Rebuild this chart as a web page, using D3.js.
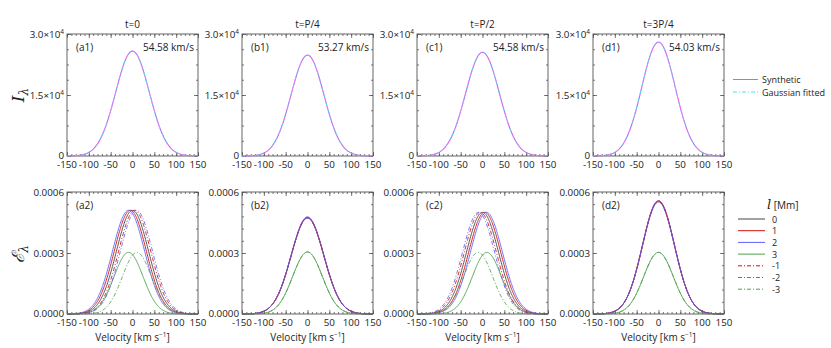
<!doctype html>
<html lang="en">
<head>
<meta charset="utf-8">
<title>Line profiles</title>
<style>
  body { margin: 0; background: #fff; font-family: 'Open Sans', sans-serif; }
  svg text { fill: #222; }
</style>
</head>
<body>
<svg width="831" height="348"></svg>
<script src="https://d3js.org/d3.v7.min.js"></script>
<script>
// ---- data ----
var times = ["t=0", "t=P/4", "t=P/2", "t=3P/4"];
var topTags = ["(a1)", "(b1)", "(c1)", "(d1)"];
var botTags = ["(a2)", "(b2)", "(c2)", "(d2)"];
var fitWidths = [54.58, 53.27, 54.58, 54.03];          // km/s, printed in panels
var intensityPeaks = [2.58e4, 2.48e4, 2.55e4, 2.80e4]; // synthetic = fitted
var velocityTicks = [-150, -100, -50, 0, 50, 100, 150];
var intensityTicks = [0, 1.5e4, 3.0e4];
var emissTicks = [0, 0.0003, 0.0006];

var layers = ["0", "1", "2", "3", "-1", "-2", "-3"];
var layerColors = ["#444444", "#d01010", "#6060ff", "#4aa04a", "#d01010", "#6060ff", "#4aa04a"];
var layerDashed = [false, false, false, false, true, true, true];

// emissivity profiles per panel: peak, centroid (km/s), width (km/s)
var emissPeaks = [
  [0.00051, 0.00051, 0.00051, 0.000303, 0.00051, 0.00051, 0.000303],
  [0.000474, 0.000472, 0.000478, 0.000305, 0.000474, 0.000472, 0.000305],
  [0.000500, 0.000500, 0.000500, 0.000303, 0.000500, 0.000500, 0.000303],
  [0.000555, 0.000557, 0.000550, 0.000303, 0.000555, 0.000557, 0.000303]
];
var emissShifts = [
  [0, -5, -9, -9, 5, 9, 10],
  [0, 0, 0, 0, 0, 0, 0],
  [0, 5, 9, 10, -5, -9, -10],
  [0, 0, 0, 0, 0, 0, 0]
];
var emissWidths = [
  [52, 52, 52, 47, 52, 52, 47],
  [53, 53, 53, 48, 53, 53, 48],
  [52, 52, 52, 47, 52, 52, 47],
  [52, 52, 52, 48, 52, 52, 48]
];

// ---- layout ----
var svg = d3.select("svg");
var panelLeft = [67, 242, 417, 593], panelW = 131, panelH = 122;
var rowTop = [34, 192];
var vel = d3.range(-150, 150.5, 1);
var dashDot = "4,2,1,2";

function profile(peak, shift, w) {
  return vel.map(function(v) { return [v, peak * Math.exp(-Math.pow((v - shift) / w, 2))]; });
}

function frame(g, x, y, yMinorStep) {
  var minorX = d3.range(-150, 151, 10);
  var minorY = d3.range(y.domain()[0], y.domain()[1] + yMinorStep / 2, yMinorStep);
  var ax = [
    [d3.axisBottom(x), "translate(0," + panelH + ")"],
    [d3.axisTop(x), "translate(0,0)"]
  ];
  ax.forEach(function(a) {
    g.append("g").attr("transform", a[1]).call(a[0].tickValues(minorX).tickSize(-2).tickFormat(""));
    g.append("g").attr("transform", a[1]).call(a[0].tickValues(velocityTicks).tickSize(-4).tickFormat(""));
  });
  var ay = [
    [d3.axisLeft(y), "translate(0,0)"],
    [d3.axisRight(y), "translate(" + panelW + ",0)"]
  ];
  ay.forEach(function(a) {
    g.append("g").attr("transform", a[1]).call(a[0].tickValues(minorY).tickSize(-2).tickFormat(""));
    g.append("g").attr("transform", a[1]).call(a[0].tickValues(y.ticksList).tickSize(-4).tickFormat(""));
  });
  g.selectAll(".domain").remove();
  g.selectAll(".tick line").attr("stroke", "#555").attr("stroke-width", 0.8);
  g.append("rect").attr("width", panelW).attr("height", panelH)
    .attr("fill", "none").attr("stroke", "#555").attr("stroke-width", 0.9);

  g.append("g").selectAll("text").data(velocityTicks).enter().append("text")
    .attr("x", function(d) { return x(d); })
    .attr("y", panelH + 11.5)
    .attr("text-anchor", "middle")
    .attr("font-size", 9.8)
    .text(function(d) { return d; });
}

var line = function(x, y) {
  return d3.line().x(function(d) { return x(d[0]); }).y(function(d) { return y(d[1]); });
};

for (var p = 0; p < 4; p++) {
  var x = d3.scaleLinear().domain([-150, 150]).range([0, panelW]);

  // ---- top row: intensity ----
  var yI = d3.scaleLinear().domain([0, 3.0e4]).range([panelH, 0]);
  yI.ticksList = intensityTicks;
  var g1 = svg.append("g").attr("transform", "translate(" + panelLeft[p] + "," + rowTop[0] + ")");
  frame(g1, x, yI, 3750);

  var yl = g1.append("g").selectAll("text").data(intensityTicks).enter().append("text")
    .attr("x", -3).attr("y", function(d) { return yI(d) + (d === 0 ? 2.5 : 3.5); })
    .attr("text-anchor", "end").attr("font-size", 9.8);
  yl.each(function(d) {
    var t = d3.select(this);
    if (d === 0) { t.text("0"); return; }
    t.append("tspan").text((d / 1e4).toFixed(1) + "\u00d710");
    t.append("tspan").attr("dy", -4).attr("font-size", 6.5).text("4");
  });

  var prof = profile(intensityPeaks[p], 0, fitWidths[p]);
  g1.append("path").datum(prof).attr("d", line(x, yI))
    .attr("fill", "none").attr("stroke", "#f050f0").attr("stroke-width", 1.1);
  g1.append("path").datum(prof).attr("d", line(x, yI))
    .attr("fill", "none").attr("stroke", "#40e8f0").attr("stroke-width", 1)
    .attr("stroke-dasharray", "3,2,1,2");

  g1.append("text").attr("x", 9).attr("y", 17).attr("font-size", 10).text(topTags[p]);
  g1.append("text").attr("x", panelW - 4).attr("y", 17).attr("font-size", 10)
    .attr("text-anchor", "end").text(fitWidths[p].toFixed(2) + " km/s");
  g1.append("text").attr("x", panelW / 2).attr("y", -6).attr("font-size", 10)
    .attr("text-anchor", "middle").text(times[p]);

  // ---- bottom row: emissivity ----
  var yE = d3.scaleLinear().domain([0, 0.0006]).range([panelH, 0]);
  yE.ticksList = emissTicks;
  var g2 = svg.append("g").attr("transform", "translate(" + panelLeft[p] + "," + rowTop[1] + ")");
  frame(g2, x, yE, 0.00006);

  g2.append("g").selectAll("text").data(emissTicks).enter().append("text")
    .attr("x", -3).attr("y", function(d) { return yE(d) + (d === 0 ? 2.5 : 3.5); })
    .attr("text-anchor", "end").attr("font-size", 9.8)
    .text(d3.format(".4f"));

  for (var k = 0; k < layers.length; k++) {
    g2.append("path").datum(profile(emissPeaks[p][k], emissShifts[p][k], emissWidths[p][k]))
      .attr("d", line(x, yE))
      .attr("fill", "none").attr("stroke", layerColors[k]).attr("stroke-width", 0.9)
      .attr("stroke-dasharray", layerDashed[k] ? dashDot : null);
  }

  g2.append("text").attr("x", 9).attr("y", 17).attr("font-size", 10).text(botTags[p]);
  g2.append("text").attr("x", panelW / 2).attr("y", panelH + 27).attr("font-size", 10)
    .attr("text-anchor", "middle")
    .call(function(t) {
      t.append("tspan").text("Velocity [km s");
      t.append("tspan").attr("dy", -4).attr("font-size", 6.5).text("\u22121");
      t.append("tspan").attr("dy", 4).text("]");
    });
}

// ---- y-axis titles ----
svg.append("text").attr("transform", "translate(24,95) rotate(-90)")
  .attr("text-anchor", "middle").attr("font-family", "'DejaVu Serif', serif")
  .attr("font-style", "italic").attr("font-size", 17)
  .call(function(t) {
    t.append("tspan").text("I");
    t.append("tspan").attr("dy", 4).attr("font-size", 12).text("\u03bb");
  });
svg.append("text").attr("transform", "translate(24,254) rotate(-90)")
  .attr("text-anchor", "middle").attr("font-family", "'DejaVu Serif', serif")
  .attr("font-style", "italic").attr("font-size", 17)
  .call(function(t) {
    t.append("tspan").text("\u2130");
    t.append("tspan").attr("dy", 4).attr("font-size", 12).text("\u03bb");
  });

// ---- legends ----
var leg1 = svg.append("g").attr("transform", "translate(733,0)");
leg1.append("line").attr("x1", 0).attr("x2", 25).attr("y1", 79.5).attr("y2", 79.5)
  .attr("stroke", "#f050f0").attr("stroke-width", 1);
leg1.append("line").attr("x1", 0).attr("x2", 25).attr("y1", 92).attr("y2", 92)
  .attr("stroke", "#40e8f0").attr("stroke-width", 1).attr("stroke-dasharray", dashDot);
leg1.append("text").attr("x", 29).attr("y", 83).attr("font-size", 9).text("Synthetic");
leg1.append("text").attr("x", 29).attr("y", 95.5).attr("font-size", 9).text("Gaussian fitted");

var leg2 = svg.append("g").attr("transform", "translate(738,0)");
leg2.append("text").attr("x", 29).attr("y", 209).attr("font-size", 10)
  .call(function(t) {
    t.append("tspan").attr("font-family", "'DejaVu Serif', serif").attr("font-style", "italic")
      .attr("font-size", 13).text("l");
    t.append("tspan").text(" [Mm]");
  });
var rows = leg2.selectAll("g.row").data(layers).enter().append("g")
  .attr("transform", function(d, i) { return "translate(0," + (219 + i * 11.7) + ")"; });
rows.append("line").attr("x1", 0).attr("x2", 27)
  .attr("stroke", function(d, i) { return layerColors[i]; }).attr("stroke-width", 1)
  .attr("stroke-dasharray", function(d, i) { return layerDashed[i] ? dashDot : null; });
rows.append("text").attr("x", 34).attr("y", 3.5).attr("font-size", 9).text(function(d) { return d; });
</script>
</body>
</html>
